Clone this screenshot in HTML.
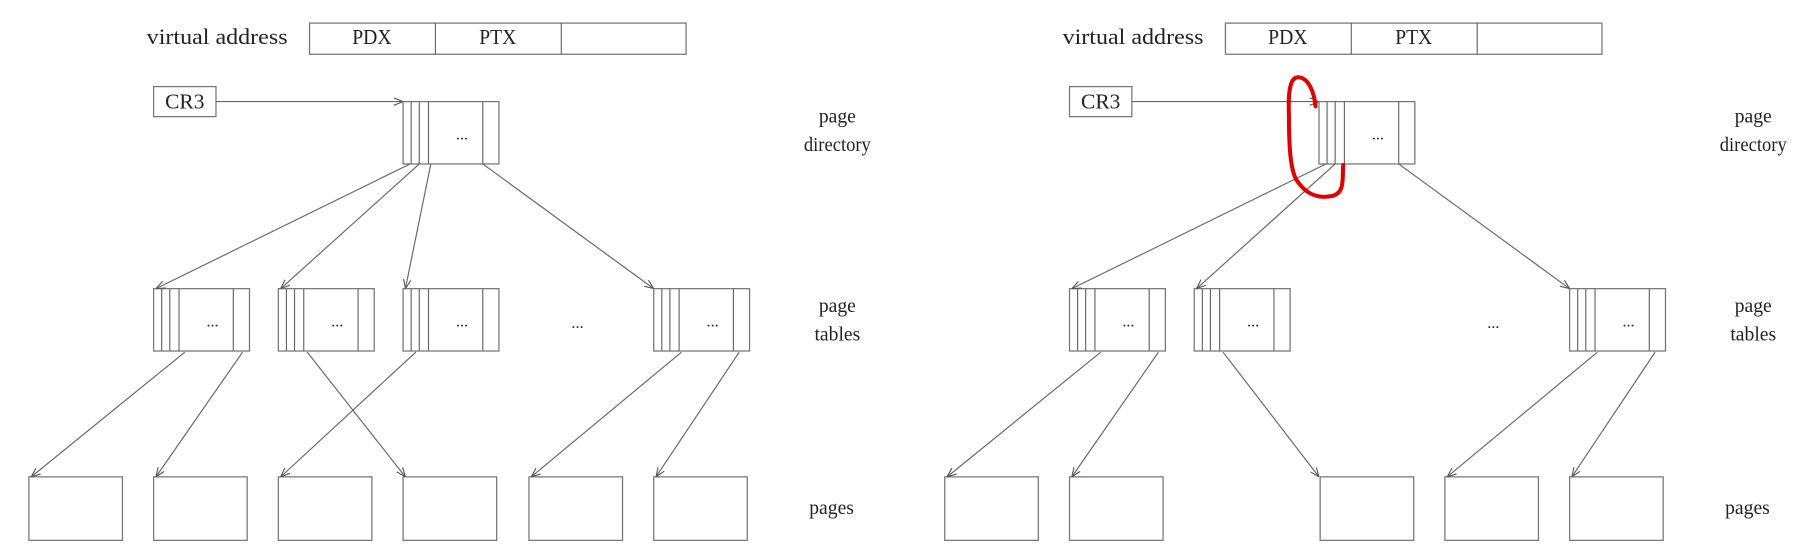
<!DOCTYPE html>
<html><head><meta charset="utf-8"><style>
html,body{margin:0;padding:0;background:#fff;}
svg{display:block;}
text{font-family:"Liberation Serif",serif;fill:#222;}
</style></head><body>
<svg id="fig" width="1811" height="560" viewBox="0 0 1568 485" preserveAspectRatio="none" xmlns="http://www.w3.org/2000/svg">
<defs><marker id="ah" viewBox="0 0 10 10" refX="10" refY="5" markerWidth="8" markerHeight="8" orient="auto-start-reverse"><path d="M0,1 L10,5 L0,9" fill="none" stroke="#555" stroke-width="1.2"/></marker></defs>
</svg>
<script>
const panelOffsets=[0,793];
const pageTableSlotsLeft=[133,241,349,566];
const pageTableSlotsRight=[133,241,566];
const pageSlotsLeft=[25,133,241,349,458,566];
const pageSlotsRight=[25,133,350,458,566];
const dirArrowsLeft=[[355,135],[363,243],[373,351],[418,566]];
const dirArrowsRight=[[355,135],[363,243],[418,566]];
const ptArrowsLeft=[[160,27],[210,135],[266,351],[360,243],[590,460],[640,568]];
const ptArrowsRight=[[160,27],[210,135],[266,349],[590,460],[640,568]];
const svg=document.getElementById('fig');
const NS='http://www.w3.org/2000/svg';
function mk(t,a,name,parent){const e=document.createElementNS(NS,t);for(const k in a)e.setAttribute(k,a[k]);


(parent||svg).appendChild(e);return e;}
function txt(x,y,s,name,size,g,tl){const a={x:x,y:y,'text-anchor':'middle','font-size':size||18};if(tl){a.textLength=tl;a.lengthAdjust='spacingAndGlyphs';}const e=mk('text',a,name,g);e.textContent=s;return e;}
function rect(x,y,w,h,name,g){return mk('rect',{x:x,y:y,width:w,height:h,fill:'none',stroke:'#777','stroke-width':1.1},name,g);}
function line(x1,y1,x2,y2,name,g,arrow){const a={x1:x1,y1:y1,x2:x2,y2:y2,stroke:'#666','stroke-width':1};if(arrow)a['marker-end']='url(#ah)';return mk('line',a,name,g);}
function tableBox(x,y,name,g){rect(x,y,83,54,name,g);[7,14,22,69].forEach(d=>line(x+d,y,x+d,y+54,name+'-divider',g));txt(x+51,y+33,'...',name+'-ellipsis',14,g);}
panelOffsets.forEach((ox,pi)=>{
  const g=mk('g',{transform:'translate('+ox+',0)'},'panel-'+(pi+1));
  txt(188,38,'virtual address','virtual-address-label',19,g,122);
  rect(268,20,326,27,'virtual-address-box',g);
  line(377,20,377,47,'va-divider',g);line(486,20,486,47,'va-divider',g);
  txt(322,38,'PDX','pdx-field',18,g,34);txt(431,38,'PTX','ptx-field',18,g,32);
  rect(133,75,54,26,'cr3-register',g);txt(160,94,'CR3','cr3-label',18,g,34);
  line(187,88,349,88,'cr3-arrow',g,true);
  tableBox(349,88,'page-directory',g);
  txt(725,106,'page','page-directory-label',17,g);txt(725,131,'directory','page-directory-label',17,g,58);
  const pts=pi?pageTableSlotsRight:pageTableSlotsLeft;
  pts.forEach((x,i)=>tableBox(x,250,'page-table-'+(i+1),g));
  txt(500,284,'...','page-tables-ellipsis',14,g);
  txt(725,270,'page','page-tables-label',17,g);txt(725,295,'tables','page-tables-label',17,g);
  const ps=pi?pageSlotsRight:pageSlotsLeft;
  ps.forEach((x,i)=>rect(x,413,81,55,'page-'+(i+1),g));
  txt(720,445,'pages','pages-label',17,g);
  (pi?dirArrowsRight:dirArrowsLeft).forEach(a=>line(a[0],142,a[1],250,'directory-arrow',g,true));
  (pi?ptArrowsRight:ptArrowsLeft).forEach(a=>line(a[0],305,a[1],413,'page-table-arrow',g,true));
});
mk('path',{d:'M1139,92 C1138,80 1133,68 1125,67 C1118,66 1115,75 1116,100 C1116,125 1117,145 1122,155 C1130,168 1140,172 1152,170 C1165,168 1162,155 1163,143',fill:'none',stroke:'#e00000','stroke-width':3.5,'stroke-linecap':'round'},'red-annotation-circle');
</script>
</body></html>
